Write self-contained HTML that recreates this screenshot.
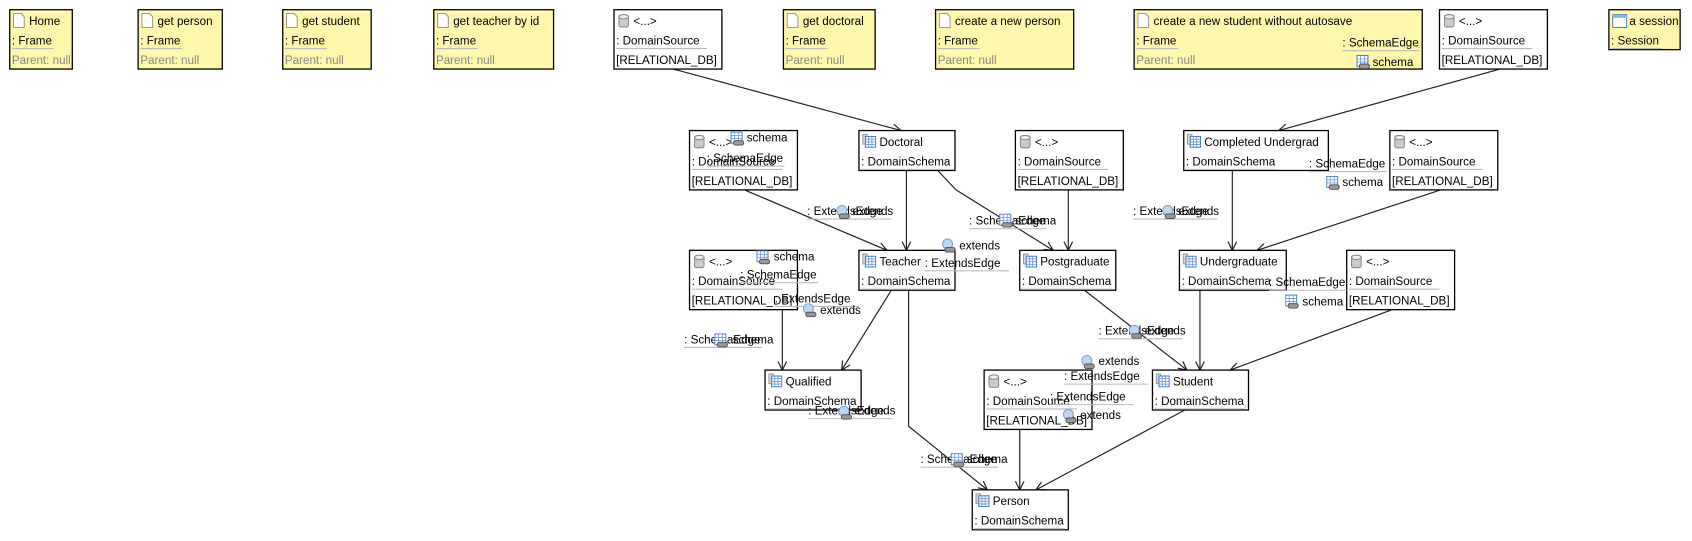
<!DOCTYPE html>
<html><head><meta charset="utf-8"><style>
html,body{margin:0;padding:0;background:#fff;}
svg{display:block;}
text{font-family:"Liberation Sans","DejaVu Sans",sans-serif;font-size:10.8px;fill:#000;dominant-baseline:central;}
.g{fill:#888;}
.box{stroke:#000;stroke-width:1.2;}
.ul{stroke:#bbb;stroke-width:1;}
.e{stroke:#222;stroke-width:1.1;fill:none;marker-end:url(#ar);}
</style></head><body>
<svg width="1692" height="541" viewBox="0 0 1568 501.4" preserveAspectRatio="none" xmlns="http://www.w3.org/2000/svg">
<defs>
<marker id="ar" markerWidth="10" markerHeight="10" refX="9" refY="5" orient="auto" markerUnits="userSpaceOnUse"><path d="M1,1 L9,5 L1,9" fill="none" stroke="#222" stroke-width="1.1"/></marker>
<symbol id="pg" viewBox="0 0 11 14"><path d="M0.5,0.5 H7.5 L10.5,3.5 V13.5 H0.5 Z" fill="#fff" stroke="#999"/></symbol>
<symbol id="db" viewBox="0 0 10 13"><rect x="0.5" y="1" width="9" height="11" rx="2" fill="#ccc" stroke="#888"/><ellipse cx="5" cy="2.5" rx="4.5" ry="2" fill="#eee" stroke="#888"/></symbol>
<symbol id="sc" viewBox="0 0 13 13"><rect x="0.5" y="0.5" width="4" height="9" fill="#ddd" stroke="#999"/><rect x="3" y="2.5" width="9.5" height="10" fill="#fff" stroke="#4a7bc0"/><path d="M3,5 H12.5 M3,7.5 H12.5 M3,10 H12.5 M6,2.5 V12.5 M9,2.5 V12.5" stroke="#6a9ad8" stroke-width="0.8"/></symbol>
<symbol id="se" viewBox="0 0 14 14"><rect x="0.5" y="0.5" width="11" height="11" fill="#fff" stroke="#4a7bc0"/><path d="M0.5,4 H11.5 M0.5,7 H11.5 M4,0.5 V11.5 M8,0.5 V11.5" stroke="#6a9ad8" stroke-width="0.8"/><rect x="3" y="9" width="10" height="4.5" rx="2" fill="#999" stroke="#555"/></symbol>
<symbol id="ex" viewBox="0 0 14 14"><circle cx="5.5" cy="5.5" r="5" fill="#bcd8f5" stroke="#7aa0d0"/><rect x="3" y="9" width="10" height="4.5" rx="2" fill="#999" stroke="#555"/></symbol>
<symbol id="ss" viewBox="0 0 14 13"><rect x="0.5" y="0.5" width="13" height="12" fill="#fff" stroke="#4a7bc0"/><rect x="0.5" y="0.5" width="13" height="3" fill="#8bb3e8"/></symbol>
</defs>

<g>
<rect class="box" x="9" y="9" width="58" height="55" fill="#fff7ab"/><use href="#pg" x="12" y="12" width="11" height="14"/><text x="27" y="20">Home</text><text x="11" y="38">: Frame</text><line class="ul" x1="11" y1="45" x2="50" y2="45"/><text class="g" x="11" y="56">Parent: null</text>
<rect class="box" x="128" y="9" width="78" height="55" fill="#fff7ab"/><use href="#pg" x="131" y="12" width="11" height="14"/><text x="146" y="20">get person</text><text x="130" y="38">: Frame</text><line class="ul" x1="130" y1="45" x2="169" y2="45"/><text class="g" x="130" y="56">Parent: null</text>
<rect class="box" x="262" y="9" width="82" height="55" fill="#fff7ab"/><use href="#pg" x="265" y="12" width="11" height="14"/><text x="280" y="20">get student</text><text x="264" y="38">: Frame</text><line class="ul" x1="264" y1="45" x2="303" y2="45"/><text class="g" x="264" y="56">Parent: null</text>
<rect class="box" x="402" y="9" width="111" height="55" fill="#fff7ab"/><use href="#pg" x="405" y="12" width="11" height="14"/><text x="420" y="20">get teacher by id</text><text x="404" y="38">: Frame</text><line class="ul" x1="404" y1="45" x2="443" y2="45"/><text class="g" x="404" y="56">Parent: null</text>
<rect class="box" x="726" y="9" width="85" height="55" fill="#fff7ab"/><use href="#pg" x="729" y="12" width="11" height="14"/><text x="744" y="20">get doctoral</text><text x="728" y="38">: Frame</text><line class="ul" x1="728" y1="45" x2="767" y2="45"/><text class="g" x="728" y="56">Parent: null</text>
<rect class="box" x="867" y="9" width="128" height="55" fill="#fff7ab"/><use href="#pg" x="870" y="12" width="11" height="14"/><text x="885" y="20">create a new person</text><text x="869" y="38">: Frame</text><line class="ul" x1="869" y1="45" x2="908" y2="45"/><text class="g" x="869" y="56">Parent: null</text>
<rect class="box" x="1051" y="9" width="267" height="55" fill="#fff7ab"/><use href="#pg" x="1054" y="12" width="11" height="14"/><text x="1069" y="20">create a new student without autosave</text><text x="1053" y="38">: Frame</text><line class="ul" x1="1053" y1="45" x2="1092" y2="45"/><text class="g" x="1053" y="56">Parent: null</text>
<rect class="box" x="1491" y="9" width="66" height="37" fill="#fff7ab"/><use href="#ss" x="1494" y="13" width="14" height="13"/><text x="1510" y="20">a session</text><text x="1493" y="38">: Session</text><line class="ul" x1="1493" y1="45" x2="1540" y2="45"/>
</g>

<path class="e" d="M624,64 L835,121"/>
<path class="e" d="M1390,64 L1185,121"/>
<path class="e" d="M690,176 L822,232"/>
<path class="e" d="M840,158 L840,232"/>
<path class="e" d="M869,158 L886,176 L976,232"/>
<path class="e" d="M990,176 L990,232"/>
<path class="e" d="M1142,158 L1142,232"/>
<path class="e" d="M1335,176 L1165,232"/>
<path class="e" d="M725,287 L725,343"/>
<path class="e" d="M826,269 L780,343"/>
<path class="e" d="M842,269 L842,395 L915,454"/>
<path class="e" d="M1005,269 L1100,343"/>
<path class="e" d="M1112,269 L1112,343"/>
<path class="e" d="M1290,287 L1140,343"/>
<path class="e" d="M945,398 L945,454"/>
<path class="e" d="M1098,380 L960,454"/>

<g fill="#fff">
<rect class="box" x="569" y="9" width="100" height="55"/><use href="#db" x="573" y="13" width="10" height="13"/><text x="587" y="20">&lt;...&gt;</text><text x="571" y="38">: DomainSource</text><line class="ul" x1="571" y1="45" x2="655" y2="45"/><text x="571" y="56">[RELATIONAL_DB]</text>
<rect class="box" x="1334" y="9" width="100" height="55"/><use href="#db" x="1338" y="13" width="10" height="13"/><text x="1352" y="20">&lt;...&gt;</text><text x="1336" y="38">: DomainSource</text><line class="ul" x1="1336" y1="45" x2="1420" y2="45"/><text x="1336" y="56">[RELATIONAL_DB]</text>
<rect class="box" x="639" y="121" width="100" height="55"/><use href="#db" x="643" y="125" width="10" height="13"/><text x="657" y="132">&lt;...&gt;</text><text x="641" y="150">: DomainSource</text><line class="ul" x1="641" y1="157" x2="725" y2="157"/><text x="641" y="168">[RELATIONAL_DB]</text>
<rect class="box" x="941" y="121" width="100" height="55"/><use href="#db" x="945" y="125" width="10" height="13"/><text x="959" y="132">&lt;...&gt;</text><text x="943" y="150">: DomainSource</text><line class="ul" x1="943" y1="157" x2="1027" y2="157"/><text x="943" y="168">[RELATIONAL_DB]</text>
<rect class="box" x="1288" y="121" width="100" height="55"/><use href="#db" x="1292" y="125" width="10" height="13"/><text x="1306" y="132">&lt;...&gt;</text><text x="1290" y="150">: DomainSource</text><line class="ul" x1="1290" y1="157" x2="1374" y2="157"/><text x="1290" y="168">[RELATIONAL_DB]</text>
<rect class="box" x="639" y="232" width="100" height="55"/><use href="#db" x="643" y="236" width="10" height="13"/><text x="657" y="243">&lt;...&gt;</text><text x="641" y="261">: DomainSource</text><line class="ul" x1="641" y1="268" x2="725" y2="268"/><text x="641" y="279">[RELATIONAL_DB]</text>
<rect class="box" x="1248" y="232" width="100" height="55"/><use href="#db" x="1252" y="236" width="10" height="13"/><text x="1266" y="243">&lt;...&gt;</text><text x="1250" y="261">: DomainSource</text><line class="ul" x1="1250" y1="268" x2="1334" y2="268"/><text x="1250" y="279">[RELATIONAL_DB]</text>
<rect class="box" x="912" y="343" width="100" height="55"/><use href="#db" x="916" y="347" width="10" height="13"/><text x="930" y="354">&lt;...&gt;</text><text x="914" y="372">: DomainSource</text><line class="ul" x1="914" y1="379" x2="998" y2="379"/><text x="914" y="390">[RELATIONAL_DB]</text>
</g>

<g fill="#fff">
<rect class="box" x="796" y="121" width="89" height="37"/><use href="#sc" x="799" y="124" width="13" height="13"/><text x="815" y="132">Doctoral</text><text x="798" y="150">: DomainSchema</text><line class="ul" x1="798" y1="157" x2="882" y2="157"/>
<rect class="box" x="1097" y="121" width="134" height="37"/><use href="#sc" x="1100" y="124" width="13" height="13"/><text x="1116" y="132">Completed Undergrad</text><text x="1099" y="150">: DomainSchema</text><line class="ul" x1="1099" y1="157" x2="1183" y2="157"/>
<rect class="box" x="796" y="232" width="89" height="37"/><use href="#sc" x="799" y="235" width="13" height="13"/><text x="815" y="243">Teacher</text><text x="798" y="261">: DomainSchema</text><line class="ul" x1="798" y1="268" x2="882" y2="268"/>
<rect class="box" x="945" y="232" width="89" height="37"/><use href="#sc" x="948" y="235" width="13" height="13"/><text x="964" y="243">Postgraduate</text><text x="947" y="261">: DomainSchema</text><line class="ul" x1="947" y1="268" x2="1031" y2="268"/>
<rect class="box" x="1093" y="232" width="99" height="37"/><use href="#sc" x="1096" y="235" width="13" height="13"/><text x="1112" y="243">Undergraduate</text><text x="1095" y="261">: DomainSchema</text><line class="ul" x1="1095" y1="268" x2="1179" y2="268"/>
<rect class="box" x="709" y="343" width="89" height="37"/><use href="#sc" x="712" y="346" width="13" height="13"/><text x="728" y="354">Qualified</text><text x="711" y="372">: DomainSchema</text><line class="ul" x1="711" y1="379" x2="795" y2="379"/>
<rect class="box" x="1068" y="343" width="89" height="37"/><use href="#sc" x="1071" y="346" width="13" height="13"/><text x="1087" y="354">Student</text><text x="1070" y="372">: DomainSchema</text><line class="ul" x1="1070" y1="379" x2="1154" y2="379"/>
<rect class="box" x="901" y="454" width="89" height="37"/><use href="#sc" x="904" y="457" width="13" height="13"/><text x="920" y="465">Person</text><text x="903" y="483">: DomainSchema</text><line class="ul" x1="903" y1="490" x2="987" y2="490"/>
</g>

<g>
<text x="1244" y="40">: SchemaEdge</text><line class="ul" x1="1244" y1="47" x2="1316" y2="47"/><use href="#se" x="1257" y="51" width="13" height="13"/><text x="1272" y="58">schema</text>
<use href="#se" x="677" y="122" width="13" height="13"/><text x="692" y="128">schema</text><text x="655" y="147">: SchemaEdge</text><line class="ul" x1="655" y1="154" x2="727" y2="154"/>
<text x="748" y="196">: ExtendsEdge</text><line class="ul" x1="748" y1="203" x2="826" y2="203"/><use href="#ex" x="775" y="190" width="13" height="13"/><text x="790" y="196">extends</text>
<text x="898" y="205">: SchemaEdge</text><line class="ul" x1="898" y1="212" x2="970" y2="212"/><use href="#se" x="926" y="198" width="13" height="13"/><text x="941" y="205">schema</text>
<text x="1050" y="196">: ExtendsEdge</text><line class="ul" x1="1050" y1="203" x2="1128" y2="203"/><use href="#ex" x="1077" y="190" width="13" height="13"/><text x="1092" y="196">extends</text>
<text x="1213" y="152">: SchemaEdge</text><line class="ul" x1="1213" y1="159" x2="1285" y2="159"/><use href="#se" x="1229" y="163" width="13" height="13"/><text x="1244" y="169">schema</text>
<use href="#ex" x="873" y="221" width="13" height="13"/><text x="889" y="228">extends</text><text x="857" y="244">: ExtendsEdge</text><line class="ul" x1="857" y1="251" x2="935" y2="251"/>
<use href="#se" x="701" y="232" width="13" height="13"/><text x="717" y="238">schema</text><text x="686" y="255">: SchemaEdge</text><line class="ul" x1="686" y1="262" x2="758" y2="262"/>
<text x="718" y="277">: ExtendsEdge</text><line class="ul" x1="718" y1="284" x2="796" y2="284"/><use href="#ex" x="744" y="281" width="13" height="13"/><text x="760" y="288">extends</text>
<text x="634" y="315">: SchemaEdge</text><line class="ul" x1="634" y1="322" x2="706" y2="322"/><use href="#se" x="662" y="309" width="13" height="13"/><text x="679" y="315">schema</text>
<text x="1176" y="262">: SchemaEdge</text><line class="ul" x1="1176" y1="269" x2="1248" y2="269"/><use href="#se" x="1191" y="273" width="13" height="13"/><text x="1207" y="280">schema</text>
<text x="1018" y="307">: ExtendsEdge</text><line class="ul" x1="1018" y1="314" x2="1096" y2="314"/><use href="#ex" x="1046" y="301" width="13" height="13"/><text x="1061" y="307">extends</text>
<use href="#ex" x="1002" y="329" width="13" height="13"/><text x="1018" y="335">extends</text><text x="986" y="349">: ExtendsEdge</text><line class="ul" x1="986" y1="356" x2="1064" y2="356"/>
<text x="973" y="368">: ExtendsEdge</text><line class="ul" x1="973" y1="375" x2="1051" y2="375"/><use href="#ex" x="985" y="379" width="13" height="13"/><text x="1001" y="385">extends</text>
<text x="749" y="381">: ExtendsEdge</text><line class="ul" x1="749" y1="388" x2="827" y2="388"/><use href="#ex" x="777" y="376" width="13" height="13"/><text x="792" y="381">extends</text>
<text x="853" y="426">: SchemaEdge</text><line class="ul" x1="853" y1="433" x2="925" y2="433"/><use href="#se" x="881" y="420" width="13" height="13"/><text x="896" y="426">schema</text>
</g>
</svg>
</body></html>
